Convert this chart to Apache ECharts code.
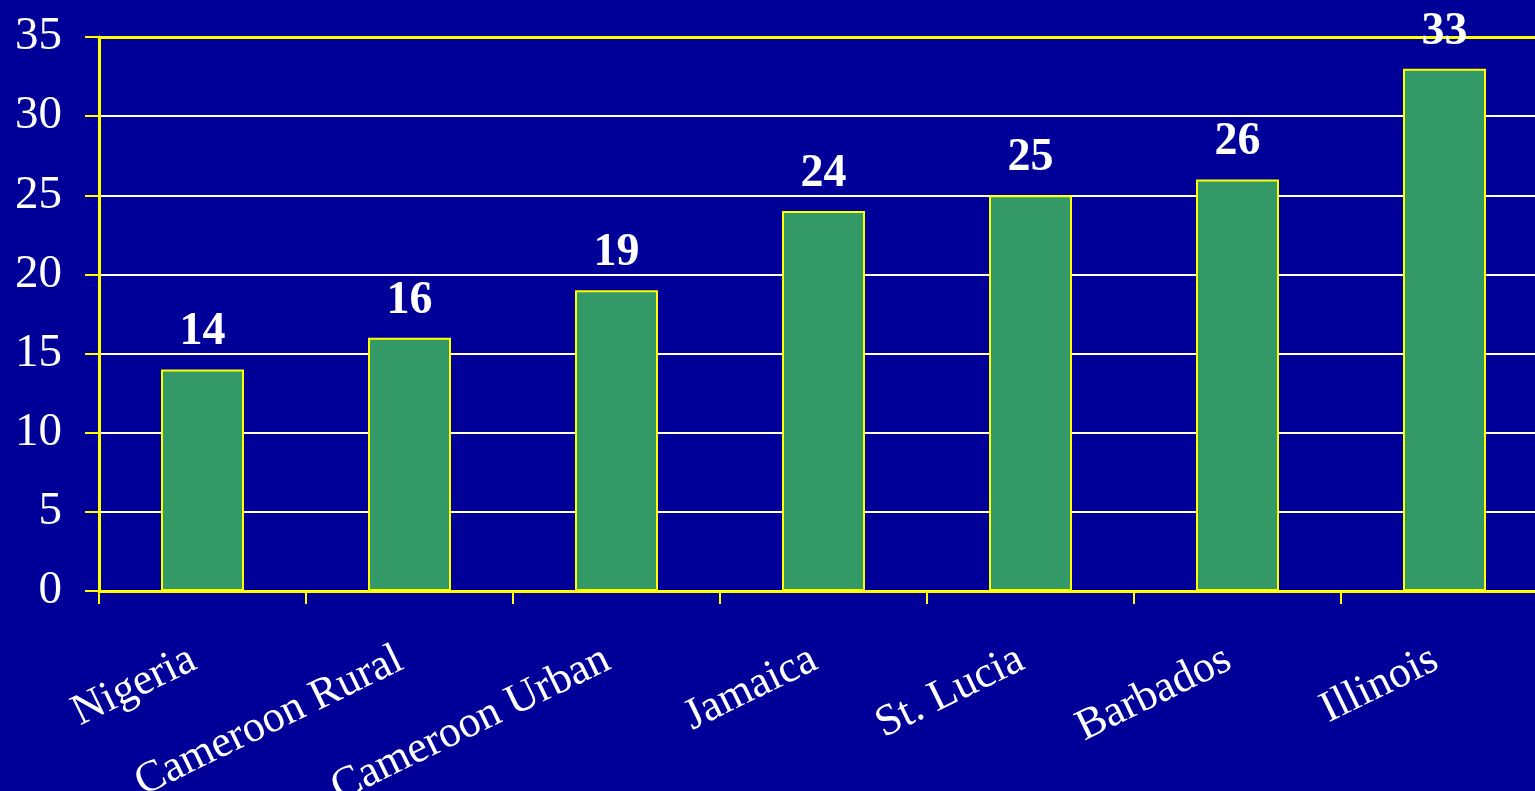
<!DOCTYPE html>
<html>
<head>
<meta charset="utf-8">
<script src="https://cdn.jsdelivr.net/npm/echarts@6/dist/echarts.min.js"></script>
<style>
html,body{margin:0;padding:0;background:#000099;}
#chart{width:1535px;height:791px;}
</style>
</head>
<body>
<div id="chart"></div>
<script>
const categories = ['Nigeria','Cameroon Rural','Cameroon Urban','Jamaica','St. Lucia','Barbados','Illinois'];
const values = [14, 16, 19, 24, 25, 26, 33];
const yTicks = { min: 0, max: 35, interval: 5 };

const FONT = '"Liberation Serif","Times New Roman",serif';
const chart = echarts.init(document.getElementById('chart'));
chart.setOption({
  backgroundColor: '#000099',
  animation: false,
  grid: { left: 99, right: -13, top: 37, bottom: 200, containLabel: false, outerBoundsMode: 'none' },
  xAxis: [{
    type: 'category',
    data: categories,
    position: 'bottom',
    axisLine: { lineStyle: { color: '#ffff00', width: 3 } },
    axisTick: { show: true, length: 13, lineStyle: { color: '#ffff00', width: 2 } },
    axisLabel: { color: '#ffffff', fontFamily: FONT, fontSize: 44, rotate: 26, margin: 62, interval: 0, padding: [0, 10, 0, 0] },
    splitLine: { show: false }
  }, {
    type: 'category',
    data: categories,
    position: 'top',
    axisLine: { show: true, lineStyle: { color: '#ffff00', width: 3 } },
    axisTick: { show: false },
    axisLabel: { show: false }
  }],
  yAxis: {
    type: 'value',
    min: yTicks.min, max: yTicks.max, interval: yTicks.interval,
    axisLine: { show: true, lineStyle: { color: '#ffff00', width: 3 } },
    axisTick: { show: true, length: 14, lineStyle: { color: '#ffff00', width: 2 } },
    axisLabel: { color: '#ffffff', fontFamily: FONT, fontSize: 47, margin: 37 },
    splitLine: { show: true, lineStyle: { color: '#ffffff', width: 2 } }
  },
  series: [{
    type: 'bar',
    data: values,
    xAxisIndex: 0,
    barWidth: 83,
    itemStyle: { color: '#339966', borderColor: '#ffff00', borderWidth: 2 },
    label: { show: true, position: 'top', distance: 14, color: '#ffffff', fontFamily: FONT, fontWeight: 'bold', fontSize: 46 }
  }]
});
</script>
</body>
</html>
